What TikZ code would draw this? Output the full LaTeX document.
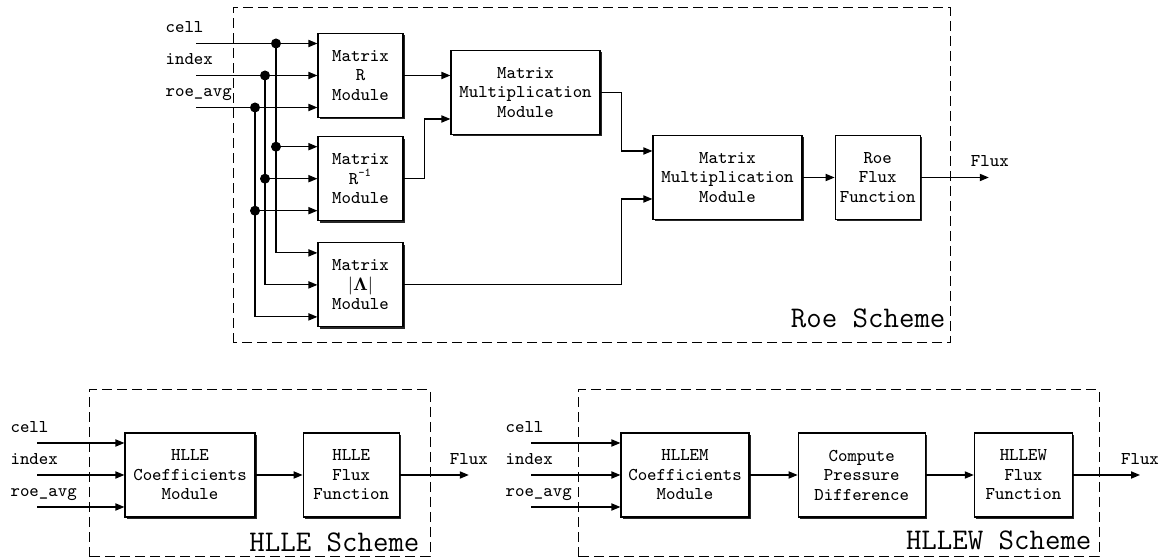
\documentclass[tikz,border=0pt]{standalone}
\usetikzlibrary{arrows.meta,calc,shadows,positioning}

\begin{document}
\begin{tikzpicture}[x=0.5pt, y=0.5pt, line width=0.6pt,
      >={Triangle[length=4.5pt,width=3.6pt]},
      block/.style={draw, fill=white, align=center, inner sep=0pt, minimum height=42pt,
        font=\fontsize{9pt}{9.75pt}\selectfont\ttfamily,
        drop shadow={shadow xshift=1pt, shadow yshift=-1pt, fill=black!85, opacity=1}},
      lbl/.style={font=\fontsize{9pt}{9.75pt}\selectfont\ttfamily, inner sep=0pt, anchor=base west},
      scheme/.style={draw, dash pattern=on 5pt off 2.5pt, line width=0.5pt},
      title/.style={font=\fontsize{15pt}{17pt}\selectfont\ttfamily, inner sep=0pt, anchor=base east},
      junction/.style={circle, fill, inner sep=0pt, minimum size=5pt}]
      \useasboundingbox (0,0) rectangle (1160,560);

      % Roe scheme
      \draw[scheme] (233,217) rectangle (950,552);
      \node (roetitle) [title] at (946,232) {Roe Scheme};

      \node (matR) [block, minimum width=42.5pt] at (360.5,484.5) {Matrix\\R\\Module};
      \node (matRinv) [block, minimum width=42.5pt, below=9pt of matR] {Matrix\\R\textsuperscript{-1}\\Module};
      \node (matL) [block, minimum width=42.5pt, below=10.5pt of matRinv] {Matrix\\$|\mathbf{\Lambda}|$\\Module};
      \node (mult1) [block, minimum width=74.5pt] at (525.5,467.5) {Matrix\\Multiplication\\Module};
      \node (mult2) [block, minimum width=74.5pt] at (727.5,382.5) {Matrix\\Multiplication\\Module};
      \node (roeflux) [block, minimum width=42.5pt, right=16pt of mult2] {Roe\\Flux\\Function};

      \coordinate (Rc) at ($(matR.west)+(0,32)$);
      \coordinate (Ri) at (matR.west);
      \coordinate (Rr) at ($(matR.west)+(0,-32)$);
      \coordinate (Ic) at ($(matRinv.west)+(0,32)$);
      \coordinate (Ii) at (matRinv.west);
      \coordinate (Ir) at ($(matRinv.west)+(0,-32)$);
      \coordinate (Lc) at ($(matL.west)+(0,32)$);
      \coordinate (Li) at (matL.west);
      \coordinate (Lr) at ($(matL.west)+(0,-32)$);
      \coordinate (roein) at (196,0);
      \coordinate (buscell) at (276,0);
      \coordinate (busindex) at (265,0);
      \coordinate (busroe) at (255,0);

      \node (roecell) [lbl] at ($(Rc -| roein)+(-31,10.5)$) {cell};
      \node (roeindex) [lbl] at ($(Ri -| roein)+(-31,10.5)$) {index};
      \node (roeavg) [lbl] at ($(Rr -| roein)+(-31,10.5)$) {roe\_avg};

      \draw[->] (Rc -| roein) -- (Rc);
      \draw[->] (Ri -| roein) -- (Ri);
      \draw[->] (Rr -| roein) -- (Rr);
      \draw[->] (Rc -| buscell) -- (Lc -| buscell) -- (Lc);
      \draw[->] (Ri -| busindex) -- (Li -| busindex) -- (Li);
      \draw[->] (Rr -| busroe) -- (Lr -| busroe) -- (Lr);
      \draw[->] (Ic -| buscell) -- (Ic);
      \draw[->] (Ii -| busindex) -- (Ii);
      \draw[->] (Ir -| busroe) -- (Ir);

      \node (j1) [junction] at (Rc -| buscell) {};
      \node (j2) [junction] at (Ri -| busindex) {};
      \node (j3) [junction] at (Rr -| busroe) {};
      \node (j4) [junction] at (Ic -| buscell) {};
      \node (j5) [junction] at (Ii -| busindex) {};
      \node (j6) [junction] at (Ir -| busroe) {};

      \coordinate (m1b) at ($(mult1.west)+(0,-26.5)$);
      \coordinate (elbow) at ($(mult1.east)+(21,0)$);
      \coordinate (m2a) at ($(mult2.west)+(0,26.5)$);
      \coordinate (m2b) at ($(mult2.west)+(0,-21.5)$);
      \coordinate (roeout) at ($(roeflux.east)+(68,0)$);

      \draw[->] (matR.east) -- (matR.east -| mult1.west);
      \draw[->] (matRinv.east) -- ++(21,0) |- (m1b);
      \draw[->] (mult1.east) -- (elbow) |- (m2a);
      \draw[->] (matL.east) -- (matL.east -| elbow) |- (m2b);
      \draw[->] (mult2) -- (roeflux);
      \draw[->] (roeflux) -- (roeout);
      \node (roefluxlbl) [lbl, anchor=base] at ($(roeout)+(1,10.5)$) {Flux};

      % HLLE scheme
      \draw[scheme] (89,3) rectangle (430,170);
      \node (hlletitle) [title] at (420,8) {HLLE Scheme};

      \node (hllecoef) [block, minimum width=65pt] at (190,85) {HLLE\\Coefficients\\Module};
      \node (hlleflux) [block, minimum width=48pt, right=23.5pt of hllecoef] {HLLE\\Flux\\Function};

      \coordinate (Hc) at ($(hllecoef.west)+(0,32)$);
      \coordinate (Hi) at (hllecoef.west);
      \coordinate (Hr) at ($(hllecoef.west)+(0,-32)$);
      \coordinate (hllein) at (37,0);
      \coordinate (hlleout) at ($(hlleflux.east)+(69,0)$);

      \node (hllecell) [lbl] at ($(Hc -| hllein)+(-27,10.5)$) {cell};
      \node (hlleindex) [lbl] at ($(Hi -| hllein)+(-27,10.5)$) {index};
      \node (hlleavg) [lbl] at ($(Hr -| hllein)+(-27,10.5)$) {roe\_avg};

      \draw[->] (Hc -| hllein) -- (Hc);
      \draw[->] (Hi -| hllein) -- (Hi);
      \draw[->] (Hr -| hllein) -- (Hr);
      \draw[->] (hllecoef) -- (hlleflux);
      \draw[->] (hlleflux) -- (hlleout);
      \node (hllefluxlbl) [lbl, anchor=base] at ($(hlleout)+(0,10.5)$) {Flux};

      % HLLEW scheme
      \draw[scheme] (578,3) rectangle (1099,170);
      \node (hllewtitle) [title] at (1092,10) {HLLEW Scheme};

      \node (hllemcoef) [block, minimum width=64pt] at (685,85) {HLLEM\\Coefficients\\Module};
      \node (pdiff) [block, minimum width=63.5pt, right=24pt of hllemcoef] {Compute\\Pressure\\Difference};
      \node (hllewflux) [block, minimum width=49pt, right=24pt of pdiff] {HLLEW\\Flux\\Function};

      \coordinate (Wc) at ($(hllemcoef.west)+(0,32)$);
      \coordinate (Wi) at (hllemcoef.west);
      \coordinate (Wr) at ($(hllemcoef.west)+(0,-32)$);
      \coordinate (hllewin) at (531,0);
      \coordinate (hllewout) at ($(hllewflux.east)+(67,0)$);

      \node (hllewcell) [lbl] at ($(Wc -| hllewin)+(-26,10.5)$) {cell};
      \node (hllewindex) [lbl] at ($(Wi -| hllewin)+(-26,10.5)$) {index};
      \node (hllewavg) [lbl] at ($(Wr -| hllewin)+(-26,10.5)$) {roe\_avg};

      \draw[->] (Wc -| hllewin) -- (Wc);
      \draw[->] (Wi -| hllewin) -- (Wi);
      \draw[->] (Wr -| hllewin) -- (Wr);
      \draw[->] (hllemcoef) -- (pdiff);
      \draw[->] (pdiff) -- (hllewflux);
      \draw[->] (hllewflux) -- (hllewout);
      \node (hllewfluxlbl) [lbl, anchor=base] at ($(hllewout)+(0,10.5)$) {Flux};
\end{tikzpicture}
\end{document}
